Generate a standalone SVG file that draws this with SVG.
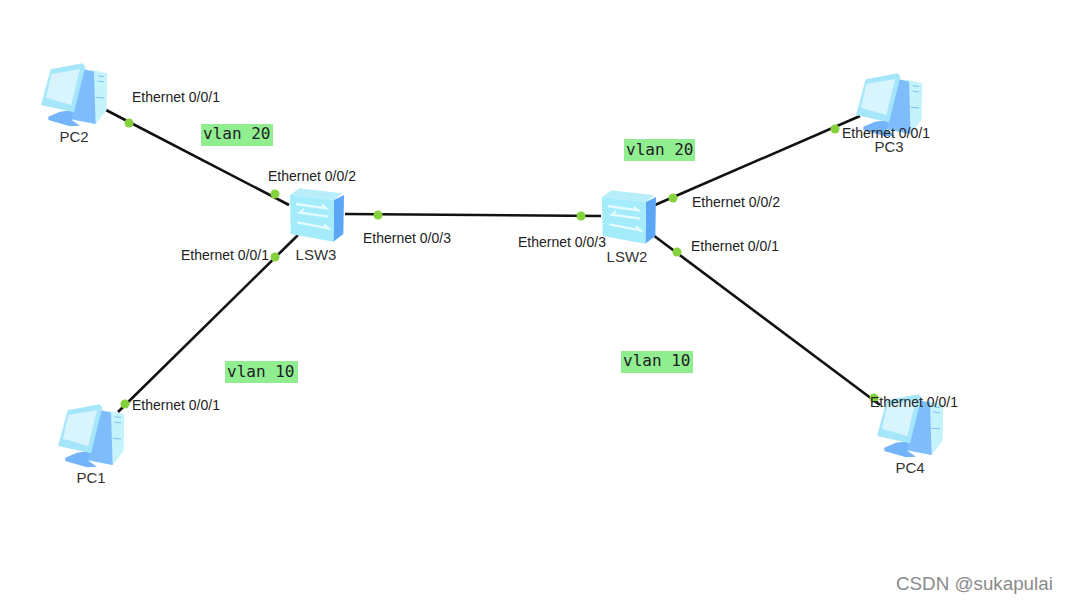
<svg xmlns="http://www.w3.org/2000/svg" width="1067" height="603" viewBox="0 0 1067 603">
<style>
.l{font:14px "Liberation Sans",Arial,sans-serif;fill:#222}
.n{font:15px "Liberation Sans",Arial,sans-serif;fill:#333}
.v{font:16px "DejaVu Sans Mono","Liberation Mono",monospace;fill:#222}
.b{fill:#90ee90}
.c{stroke:#111;stroke-width:2.6;fill:none}
.d{fill:#86d23c}
.w{font:18.8px "Liberation Sans",Arial,sans-serif;fill:#8a8a8a}
</style>
<defs>
<g id="pc" transform="scale(.3333)">
<path d="M185 44L232 55L230 165L197 207L125 195L150 60Z" fill="#c4f3fb"/>
<path d="M160 42L192 50L197 207L122 192L130 165Z" fill="#7fbcfb"/>
<path d="M203 62L222 65M203 78L222 81M197 127L222 129" stroke="#7fbcfb" stroke-width="3"/>
<path d="M55 185L90 170L130 165L125 195L150 212L120 214L55 195Z" fill="#74b4fa"/>
<path d="M33 150L62 43L158 25L166 35L132 172Z" fill="#a6e6fb"/>
<path d="M64 57L150 42L124 150L48 128Z" fill="#d8f4fc"/>
</g>
<g id="sw" transform="scale(.3333)">
<path d="M90 105L118 85L247 100L222 120Z" fill="#b8eefa"/>
<path d="M222 120L252 105L250 222L220 245Z" fill="#5ca6f6"/>
<path d="M90 105L222 120L220 245L92 222Z" fill="#a4ecfc"/>
<path d="M108 132L198 145L186 135M205 170L120 158L132 147M112 187L205 205L192 193" fill="none" stroke="#e4fbff" stroke-width="7"/>
</g>
</defs>
<rect width="1067" height="603" fill="#fff"/>
<g id="connectors" class="c">
<path d="M106 110L289 205"/>
<path d="M118 412L298 235"/>
<path d="M345 214L601 216"/>
<path d="M655 205L860 116"/>
<path d="M653 235L880 405"/>
</g>
<g id="PC2"><use href="#pc" transform="translate(30 55)"/><text class="n" x="74" y="142" text-anchor="middle">PC2</text></g>
<g id="PC1"><use href="#pc" transform="translate(47 396)"/><text class="n" x="91" y="483" text-anchor="middle">PC1</text></g>
<g id="PC3"><use href="#pc" transform="translate(845 65)"/><text class="n" x="889" y="152" text-anchor="middle">PC3</text></g>
<g id="PC4"><use href="#pc" transform="translate(866 386)"/><text class="n" x="910" y="473" text-anchor="middle">PC4</text></g>
<g id="LSW3"><use href="#sw" transform="translate(260 160)"/><text class="n" x="316" y="260" text-anchor="middle">LSW3</text></g>
<g id="LSW2"><use href="#sw" transform="translate(572 162)"/><text class="n" x="627" y="262" text-anchor="middle">LSW2</text></g>
<g id="dots" class="d">
<circle cx="129" cy="123" r="4.5"/><circle cx="275" cy="194" r="4.5"/><circle cx="275" cy="257" r="4.5"/><circle cx="125" cy="404" r="4.5"/><circle cx="378" cy="215" r="4.5"/><circle cx="581" cy="216" r="4.5"/><circle cx="673" cy="198" r="4.5"/><circle cx="677" cy="252" r="4.5"/><circle cx="835" cy="129" r="4.5"/><circle cx="874" cy="398" r="4.5"/>
</g>
<g id="port-labels" class="l">
<text x="132" y="102">Ethernet 0/0/1</text>
<text x="268" y="181">Ethernet 0/0/2</text>
<text x="181" y="260">Ethernet 0/0/1</text>
<text x="132" y="410">Ethernet 0/0/1</text>
<text x="363" y="243">Ethernet 0/0/3</text>
<text x="518" y="247">Ethernet 0/0/3</text>
<text x="692" y="207">Ethernet 0/0/2</text>
<text x="691" y="251">Ethernet 0/0/1</text>
<text x="842" y="138">Ethernet 0/0/1</text>
<text x="870" y="407">Ethernet 0/0/1</text>
</g>
<g id="vlan20a"><rect class="b" x="201" y="124" width="72" height="22"/><text class="v" x="203" y="139">vlan 20</text></g>
<g id="vlan20b"><rect class="b" x="624" y="139" width="71" height="22"/><text class="v" x="626" y="155">vlan 20</text></g>
<g id="vlan10a"><rect class="b" x="225" y="361" width="73" height="22"/><text class="v" x="227" y="377">vlan 10</text></g>
<g id="vlan10b"><rect class="b" x="621" y="351" width="72" height="22"/><text class="v" x="623" y="366">vlan 10</text></g>
<text class="w" x="896" y="590">CSDN @sukapulai</text>
</svg>
